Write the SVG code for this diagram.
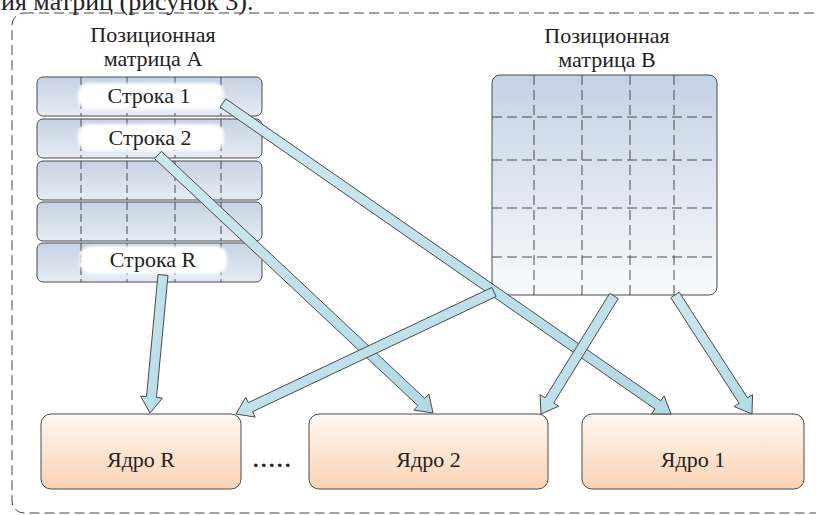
<svg xmlns="http://www.w3.org/2000/svg" width="816" height="515" viewBox="0 0 816 515">
<style>
text{font-family:'Liberation Serif','DejaVu Serif',serif;font-size:22px;fill:#222}
.lbl{text-anchor:middle}
.row{fill:url(#gRow);stroke:#4a4a4a;stroke-width:1}
.vd{stroke:#4a4a4a;stroke-width:1;stroke-dasharray:8 4;fill:none}
.bd{stroke:#4a4a4a;stroke-width:1;stroke-dasharray:10 5;fill:none}
.pill{fill:#fff;filter:url(#soft)}
.core{fill:url(#gCore);stroke:#4a4a4a;stroke-width:1}
.arr{fill:url(#gArr);stroke:#4a4a4a;stroke-width:1;stroke-linejoin:miter}
</style>
<defs>
<linearGradient id="gRow" x1="0" y1="0" x2="0" y2="1"><stop offset="0" stop-color="#c6d2e3"/><stop offset="1" stop-color="#e6ecf4"/></linearGradient>
<linearGradient id="gB" x1="0" y1="0" x2="0" y2="1"><stop offset="0" stop-color="#c5d2e5"/><stop offset="1" stop-color="#f8fafd"/></linearGradient>
<linearGradient id="gCore" x1="0" y1="0" x2="0" y2="1"><stop offset="0" stop-color="#fef8f3"/><stop offset="1" stop-color="#fbd2b3"/></linearGradient>
<linearGradient id="gArr" x1="0" y1="0" x2="1" y2="1"><stop offset="0" stop-color="#cfe8ef"/><stop offset="1" stop-color="#b2d9e4"/></linearGradient>
<filter id="soft" x="-10%" y="-30%" width="120%" height="160%"><feGaussianBlur stdDeviation="1.5"/></filter>
</defs>

<text x="1" y="10" style="font-size:26px">ия матриц (рисунок 3).</text>
<rect x="12" y="13" width="840" height="500" rx="12" fill="none" stroke="#444" stroke-width="1" stroke-dasharray="10 5"/>

<g id="matrixA">
<text class="lbl" x="153" y="42">Позиционная</text>
<text class="lbl" x="153" y="66">матрица A</text>
<rect class="row" x="37" y="77" width="225" height="39" rx="6"/>
<rect class="row" x="37" y="119" width="225" height="39" rx="6"/>
<rect class="row" x="37" y="161" width="225" height="39" rx="6"/>
<rect class="row" x="37" y="202" width="225" height="39" rx="6"/>
<rect class="row" x="37" y="243" width="225" height="39" rx="6"/>
<path class="vd" d="M81 77V116M127 77V116M175 77V116M221 77V116M81 119V158M127 119V158M175 119V158M221 119V158M81 161V200M127 161V200M175 161V200M221 161V200M81 202V241M127 202V241M175 202V241M221 202V241M81 243V282M127 243V282M175 243V282M221 243V282"/>
<rect class="pill" x="78" y="83" width="146" height="27" rx="11"/>
<rect class="pill" x="78" y="124" width="146" height="27" rx="11"/>
<rect class="pill" x="80" y="246" width="147" height="28" rx="11"/>
<text class="lbl" x="149" y="103">Строка 1</text>
<text class="lbl" x="150" y="145">Строка 2</text>
<text class="lbl" x="153" y="267">Строка R</text>
</g>

<g id="matrixB">
<text class="lbl" x="607" y="43">Позиционная</text>
<text class="lbl" x="607" y="67">матрица B</text>
<rect x="492" y="75" width="225" height="220" rx="8" fill="url(#gB)" stroke="#4a4a4a" stroke-width="1"/>
<path class="bd" d="M534 75V295M582 75V295M630 75V295M674 75V295M492 117H717M492 160H717M492 208H717M492 257H717"/>
</g>

<g id="coreR">
<rect class="core" x="41" y="414" width="200" height="75" rx="10"/>
<text class="lbl" x="141" y="467">Ядро R</text>
</g>
<g id="dots">
<text x="253" y="467" style="font-weight:bold;letter-spacing:2.5px">.....</text>
</g>
<g id="core2">
<rect class="core" x="309" y="414" width="239" height="75" rx="10"/>
<text class="lbl" x="428.5" y="467">Ядро 2</text>
</g>
<g id="core1">
<rect class="core" x="582" y="414" width="222" height="75" rx="10"/>
<text class="lbl" x="693" y="467">Ядро 1</text>
</g>

<g id="connectors">
<polygon class="arr" points="220.15,107.11 655.01,408.99 651.59,413.92 671,414 664.13,395.84 660.71,400.77 225.85,98.89"/>
<polygon class="arr" points="154.58,158.65 417.91,405.70 413.80,410.07 433,413 428.86,394.03 424.75,398.40 161.42,151.35"/>
<polygon class="arr" points="158.02,274.53 146.52,396.60 140.55,396.04 150,413 162.45,398.10 156.48,397.54 167.98,275.47"/>
<polygon class="arr" points="491.86,287.48 248.32,402.64 245.76,397.22 236,414 255.16,417.10 252.60,411.68 496.14,296.52"/>
<polygon class="arr" points="609.75,293.37 545.17,397.76 540.07,394.60 541,414 558.77,406.18 553.67,403.02 618.25,298.63"/>
<polygon class="arr" points="670.80,297.72 739.11,403.29 734.07,406.55 752,414 752.55,394.60 747.51,397.85 679.20,292.28"/>
</g>
</svg>
